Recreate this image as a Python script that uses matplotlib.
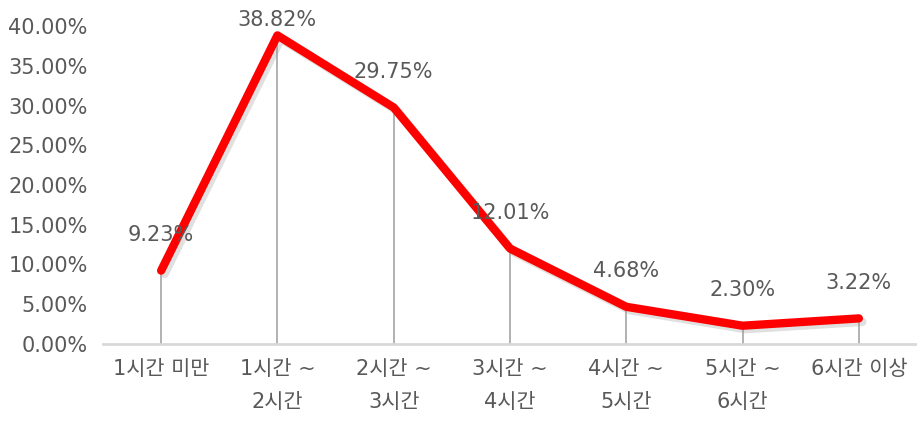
import matplotlib
matplotlib.use("Agg")
import matplotlib.pyplot as plt
import matplotlib.patheffects as pe
from matplotlib.ticker import FuncFormatter

plt.rcParams['font.family'] = ['DejaVu Sans', 'Noto Sans CJK KR']

categories = ["1시간 미만", "1시간 ~\n2시간", "2시간 ~\n3시간", "3시간 ~\n4시간",
              "4시간 ~\n5시간", "5시간 ~\n6시간", "6시간 이상"]
values = [9.23, 38.82, 29.75, 12.01, 4.68, 2.30, 3.22]
yticks = [0, 5, 10, 15, 20, 25, 30, 35, 40]

text_color = "#595959"
fs = 15

fig = plt.figure(figsize=(9.17, 4.28), dpi=100)
ax = fig.add_axes([103 / 917, 84 / 428, 814 / 917, 318 / 428])

x = list(range(len(values)))

# drop lines from each point to the baseline
ax.vlines(x, 0, values, color="#a6a6a6", linewidth=1.2, zorder=2)

# main series with a soft shadow
ax.plot(x, values, color="#ff0000", linewidth=6, solid_capstyle="round",
        solid_joinstyle="round", zorder=3, clip_on=False,
        path_effects=[pe.SimpleLineShadow(offset=(2.5, -2.5), shadow_color="#999999", alpha=0.3),
                      pe.Normal()])

# value labels
for xi, v in zip(x, values):
    ty = min(v + 4.45, 40.75)
    ax.text(xi, ty, f"{v:.2f}%", ha="center", va="center", fontsize=fs,
            color=text_color, zorder=4)

ax.set_xlim(-0.5, 6.5)
ax.set_ylim(0, 40)
ax.set_yticks(yticks)
ax.yaxis.set_major_formatter(FuncFormatter(lambda v, p: f"{v:.2f}%"))
ax.set_xticks(x)
ax.set_xticklabels(categories, linespacing=1.8, va="top")

ax.tick_params(axis="both", length=0, labelsize=fs, colors=text_color)
ax.tick_params(axis="y", pad=11)
ax.tick_params(axis="x", pad=11)

for s in ["top", "right", "left"]:
    ax.spines[s].set_visible(False)
ax.spines["bottom"].set_color("#d9d9d9")
ax.spines["bottom"].set_linewidth(2)

fig.savefig("out.png", dpi=100)
